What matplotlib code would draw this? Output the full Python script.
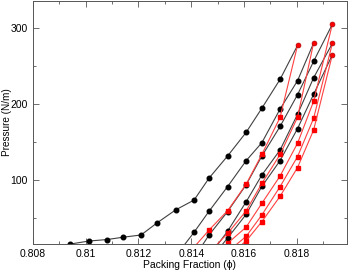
import numpy as np
import matplotlib
matplotlib.use("Agg")
import matplotlib.pyplot as plt
from matplotlib.ticker import MultipleLocator, FormatStrFormatter

plt.rcParams['font.family'] = ['Liberation Sans', 'DejaVu Sans']

# ---- packing fraction columns ----
phi = np.array([0.80941, 0.81012, 0.81082, 0.81141, 0.81210, 0.81271, 0.81341,
                0.81411, 0.81468, 0.81538, 0.81608, 0.81668, 0.81737, 0.81803,
                0.81864, 0.81935])

# ---- compression runs (black): (start column, pressures) ----
b1 = (0, [16, 20, 22, 25, 28, 44, 61, 74, 103, 132, 163, 195, 233, 277.6])
b2 = (6, [0, 31.6, 59.4, 91.7, 125.7, 149.6, 193.9, 231.1, 280.7])
b3 = (7, [-2, 28.1, 58.8, 93.9, 132, 171, 212.7, 256.6, 305.5])
b4 = (8, [0, 33, 71.5, 107, 140, 186.8, 235, 280.2])
b5 = (8, [-6, 24, 55, 92, 126, 168, 213.2, 265.2])

# ---- decompression runs (red): (start column, pressures, low phi -> high phi) ----
r1 = (7, [12, 34.6, 60, 94.7, 134.2, 182.9, 277.6])
r2 = (8, [5, 30, 59.6, 96, 134, 182.9, 280.7])
r3 = (8, [-2, 17, 38.2, 69.8, 105.7, 148.7, 204, 305.5])
r4 = (9, [6, 26, 54.4, 91.7, 131.1, 181.6, 280.2])
r5 = (9, [0, 20, 45.6, 79, 116.7, 166.2, 265.2])

fig = plt.figure(figsize=(3.5, 2.7), dpi=100)
ax = fig.add_axes([0.094, 0.096, 0.897, 0.9])

for start, p in [b1, b2, b3, b4, b5]:
    x = phi[start:start + len(p)]
    ax.plot(x, p, '-', color='#404040', lw=0.8, marker='o', ms=3.3,
            mfc='black', mec='black', markevery=list(range(len(p) - 1)))

for start, p in [r1, r2, r3, r4, r5]:
    x = phi[start:start + len(p)]
    ax.plot(x, p, '-', color='#ff4040', lw=0.8, marker='s', ms=2.4,
            mfc='red', mec='#ff0000', markevery=list(range(len(p) - 1)))
    ax.plot(x[-1:], p[-1:], 'o', ms=3.5, mfc='red', mec='#b00000', mew=0.5)

ax.set_xlim(0.808, 0.8199)
ax.set_ylim(16, 336)
ax.xaxis.set_major_locator(MultipleLocator(0.002))
ax.xaxis.set_minor_locator(MultipleLocator(0.001))
ax.xaxis.set_major_formatter(FormatStrFormatter('%g'))
ax.yaxis.set_major_locator(MultipleLocator(100))
ax.yaxis.set_minor_locator(MultipleLocator(50))
ax.tick_params(which='both', direction='in', top=True, right=True,
               labelsize=7.5, color='#555555', width=0.6)
ax.tick_params(which='major', length=4)
ax.tick_params(which='minor', length=2.5)
for s in ax.spines.values():
    s.set_color('#555555')
    s.set_linewidth(0.7)

ax.set_xlabel('Packing Fraction (ϕ)', fontsize=7.5, labelpad=1)
ax.set_ylabel('Pressure (N/m)', fontsize=7.2)
ax.yaxis.set_label_coords(-0.066, 0.5)

fig.savefig('out.png', dpi=100)
